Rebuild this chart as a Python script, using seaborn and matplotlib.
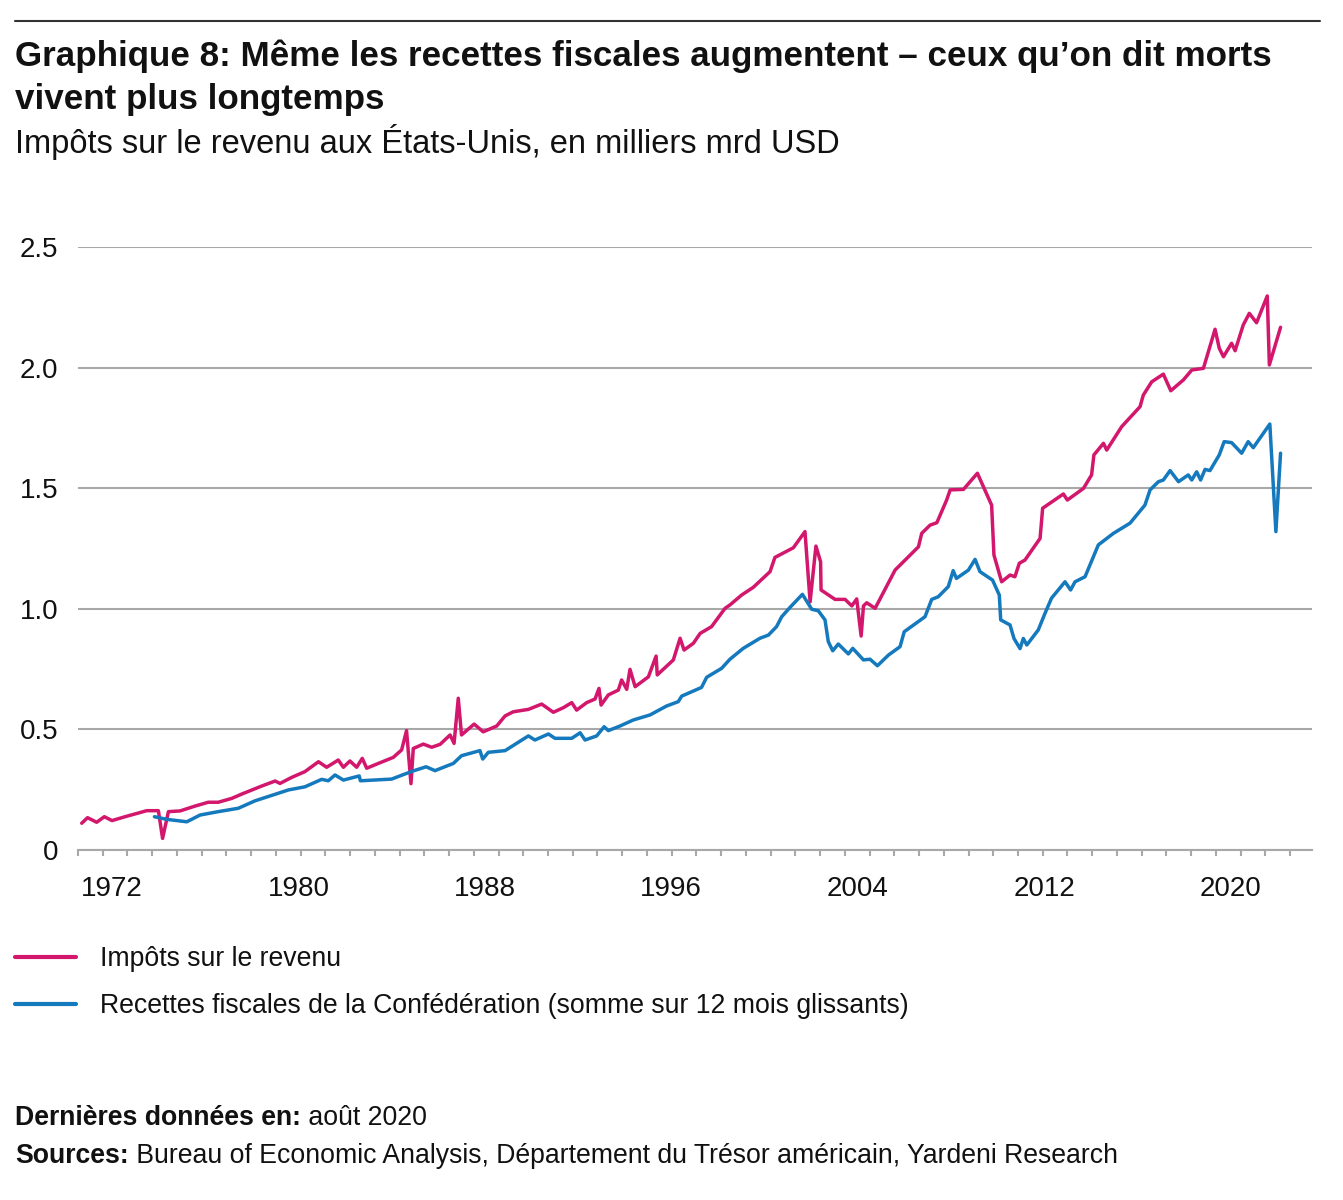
import matplotlib
matplotlib.use("Agg")
import matplotlib.pyplot as plt
from matplotlib.lines import Line2D
import numpy as np
import pandas as pd
import seaborn as sns

# Impôts sur le revenu (milliers de mrd USD)
income_years = [
  1970.70, 1970.95, 1971.34, 1971.67, 1972.00, 1972.56, 1973.49, 1973.99, 1974.17, 1974.42,
  1974.92, 1975.56, 1976.13, 1976.56, 1977.14, 1977.57, 1978.42, 1979.00, 1979.21, 1979.71,
  1980.28, 1980.86, 1981.21, 1981.71, 1981.93, 1982.21, 1982.50, 1982.74, 1982.93, 1983.43,
  1984.07, 1984.43, 1984.64, 1984.83, 1984.93, 1985.36, 1985.72, 1986.08, 1986.51, 1986.68,
  1986.86, 1987.00, 1987.54, 1987.93, 1988.51, 1988.87, 1989.22, 1989.87, 1990.44, 1990.94,
  1991.37, 1991.73, 1991.94, 1992.37, 1992.73, 1992.90, 1992.99, 1993.30, 1993.73, 1993.87,
  1994.09, 1994.23, 1994.45, 1995.02, 1995.35, 1995.40, 1996.09, 1996.38, 1996.55, 1996.95,
  1997.24, 1997.73, 1998.31, 1998.52, 1999.02, 1999.52, 2000.24, 2000.45, 2001.24, 2001.74,
  2001.96, 2002.21, 2002.41, 2002.43, 2003.03, 2003.46, 2003.75, 2003.96, 2004.15, 2004.25,
  2004.39, 2004.75, 2005.61, 2006.61, 2006.75, 2007.11, 2007.40, 2007.82, 2007.97, 2008.54,
  2009.14, 2009.75, 2009.85, 2010.18, 2010.54, 2010.75, 2010.94, 2011.18, 2011.83, 2011.94,
  2012.83, 2013.00, 2013.69, 2014.04, 2014.14, 2014.55, 2014.69, 2015.33, 2016.12, 2016.26,
  2016.62, 2017.12, 2017.44, 2017.98, 2018.34, 2018.84, 2019.34, 2019.52, 2019.70, 2020.05,
  2020.20, 2020.55, 2020.81, 2021.12, 2021.58, 2021.67, 2022.15,
]
income_values = [
  0.111, 0.134, 0.115, 0.138, 0.122, 0.138, 0.163, 0.163, 0.048, 0.159,
  0.162, 0.182, 0.198, 0.198, 0.214, 0.232, 0.265, 0.286, 0.276, 0.301,
  0.325, 0.366, 0.343, 0.373, 0.343, 0.369, 0.343, 0.380, 0.339, 0.359,
  0.384, 0.415, 0.495, 0.275, 0.421, 0.439, 0.426, 0.438, 0.477, 0.442,
  0.629, 0.477, 0.522, 0.490, 0.514, 0.556, 0.573, 0.583, 0.605, 0.571,
  0.590, 0.611, 0.580, 0.611, 0.626, 0.670, 0.601, 0.643, 0.663, 0.705,
  0.666, 0.749, 0.677, 0.718, 0.804, 0.726, 0.788, 0.878, 0.829, 0.857,
  0.898, 0.926, 1.002, 1.016, 1.057, 1.089, 1.154, 1.213, 1.253, 1.320,
  1.029, 1.260, 1.195, 1.078, 1.039, 1.039, 1.012, 1.041, 0.887, 1.012,
  1.025, 1.002, 1.161, 1.257, 1.313, 1.347, 1.357, 1.451, 1.493, 1.495,
  1.562, 1.430, 1.223, 1.112, 1.140, 1.133, 1.189, 1.202, 1.292, 1.417,
  1.476, 1.451, 1.499, 1.555, 1.638, 1.686, 1.658, 1.755, 1.838, 1.886,
  1.941, 1.973, 1.904, 1.949, 1.990, 1.997, 2.159, 2.080, 2.045, 2.101,
  2.070, 2.177, 2.225, 2.186, 2.297, 2.011, 2.167,
]

# Recettes fiscales fédérales, somme sur 12 mois glissants
receipts_years = [
  1973.82, 1974.35, 1975.21, 1975.78, 1976.56, 1977.42, 1978.14, 1979.00, 1979.57, 1980.28,
  1981.00, 1981.28, 1981.57, 1981.93, 1982.61, 1982.66, 1984.00, 1984.57, 1984.93, 1985.48,
  1985.86, 1986.65, 1987.00, 1987.79, 1987.91, 1988.15, 1988.87, 1989.87, 1990.15, 1990.73,
  1991.01, 1991.73, 1992.09, 1992.30, 1992.80, 1993.12, 1993.30, 1993.80, 1994.37, 1995.09,
  1995.80, 1996.30, 1996.45, 1997.30, 1997.52, 1998.16, 1998.52, 1999.09, 1999.81, 2000.17,
  2000.52, 2000.74, 2001.10, 2001.63, 2002.03, 2002.31, 2002.60, 2002.74, 2002.93, 2003.17,
  2003.60, 2003.79, 2004.25, 2004.53, 2004.85, 2005.32, 2005.82, 2006.00, 2006.89, 2007.18,
  2007.46, 2007.89, 2008.10, 2008.24, 2008.75, 2009.04, 2009.25, 2009.79, 2010.08, 2010.14,
  2010.54, 2010.71, 2010.97, 2011.11, 2011.26, 2011.75, 2012.04, 2012.32, 2012.90, 2013.14,
  2013.33, 2013.76, 2014.33, 2014.98, 2015.69, 2016.33, 2016.55, 2016.91, 2017.12, 2017.41,
  2017.77, 2018.19, 2018.34, 2018.55, 2018.72, 2018.91, 2019.12, 2019.52, 2019.73, 2020.05,
  2020.48, 2020.76, 2020.98, 2021.69, 2021.95, 2022.15,
]
receipts_values = [
  0.138, 0.127, 0.117, 0.145, 0.159, 0.173, 0.204, 0.231, 0.249, 0.262,
  0.293, 0.287, 0.311, 0.290, 0.307, 0.287, 0.294, 0.315, 0.328, 0.345,
  0.329, 0.359, 0.391, 0.412, 0.377, 0.405, 0.412, 0.473, 0.456, 0.481,
  0.463, 0.463, 0.486, 0.456, 0.473, 0.511, 0.495, 0.514, 0.539, 0.560,
  0.597, 0.615, 0.638, 0.674, 0.716, 0.753, 0.791, 0.836, 0.878, 0.891,
  0.926, 0.967, 1.006, 1.060, 0.998, 0.992, 0.954, 0.864, 0.826, 0.854,
  0.813, 0.836, 0.788, 0.791, 0.764, 0.808, 0.843, 0.905, 0.967, 1.039,
  1.050, 1.092, 1.158, 1.126, 1.160, 1.205, 1.154, 1.119, 1.057, 0.954,
  0.933, 0.877, 0.835, 0.877, 0.850, 0.912, 0.981, 1.044, 1.112, 1.078,
  1.112, 1.133, 1.265, 1.313, 1.355, 1.430, 1.493, 1.527, 1.534, 1.573,
  1.527, 1.555, 1.534, 1.568, 1.534, 1.578, 1.573, 1.638, 1.693, 1.689,
  1.645, 1.693, 1.668, 1.766, 1.320, 1.645,
]

series_labels = [
  "Impôts sur le revenu",
  "Recettes fiscales de la Confédération (somme sur 12 mois glissants)",
]
year_ticks = [1972, 1980, 1988, 1996, 2004, 2012, 2020]
value_ticks = [0, 0.5, 1.0, 1.5, 2.0, 2.5]
value_tick_labels = ["0", "0.5", "1.0", "1.5", "2.0", "2.5"]

title_lines = [
  "Graphique 8: Même les recettes fiscales augmentent – ceux qu’on dit morts",
  "vivent plus longtemps",
]
subtitle = "Impôts sur le revenu aux États-Unis, en milliers mrd USD"

PINK = "#D2176D"
BLUE = "#1479BD"
GRID = "#A8A8A8"
W, H = 1343, 1200

sns.set_theme(style="white")
plt.rcParams["font.family"] = ["Liberation Sans", "DejaVu Sans"]

df = pd.concat([
  pd.DataFrame({"year": income_years, "value": income_values, "serie": series_labels[0]}),
  pd.DataFrame({"year": receipts_years, "value": receipts_values, "serie": series_labels[1]}),
])

fig = plt.figure(figsize=(W / 100, H / 100), dpi=100)
ax = fig.add_axes([78 / W, 1 - 850 / H, (1312 - 78) / W, (850 - 247) / H])

sns.lineplot(
  data=df,
  x="year",
  y="value",
  hue="serie",
  palette=[PINK, BLUE],
  estimator=None,
  linewidth=2.5,
  legend=False,
  ax=ax,
  zorder=3,
)

# Axes formatting
ax.set_xlim(1970.54, 2023.5)
ax.set_ylim(0, 2.5)
ax.set_xlabel("")
ax.set_ylabel("")
ax.set_yticks(value_ticks)
ax.set_yticklabels(value_tick_labels)
ax.set_xticks(year_ticks)
ax.set_xticklabels([str(y) for y in year_ticks])
ax.set_xticks(np.linspace(1970.54, 2022.56, 50), minor=True)
ax.tick_params(axis="y", length=0, pad=14, labelsize=20, labelcolor="#111111")
ax.tick_params(axis="x", which="major", length=0, pad=19, labelsize=20, labelcolor="#111111")
ax.tick_params(axis="x", which="minor", length=4, width=1.5, color=GRID, bottom=True)
ax.grid(axis="y", color=GRID, linewidth=1.5)
ax.grid(axis="x", visible=False)
for side in ["left", "right", "top"]:
  ax.spines[side].set_visible(False)
ax.spines["bottom"].set_color(GRID)
ax.spines["bottom"].set_linewidth(1.5)

# Titles
fig.add_artist(Line2D([15 / W, 1320 / W], [1 - 21 / H, 1 - 21 / H], color="#333333", linewidth=1.5))
fig.text(15 / W, 1 - 66 / H, title_lines[0], fontsize=25.2, fontweight="bold", va="baseline", color="#111111")
fig.text(15 / W, 1 - 109 / H, title_lines[1], fontsize=25.2, fontweight="bold", va="baseline", color="#111111")
fig.text(15 / W, 1 - 153 / H, subtitle, fontsize=23.5, va="baseline", color="#111111")

# Legend
handles = [Line2D([], [], color=PINK, linewidth=3), Line2D([], [], color=BLUE, linewidth=3)]
fig.legend(
  handles,
  series_labels,
  loc="upper left",
  bbox_to_anchor=(15 / W, 1 - 946 / H),
  frameon=False,
  fontsize=19.2,
  handlelength=2.3,
  handletextpad=0.87,
  labelspacing=0.8,
  borderpad=0,
  borderaxespad=0,
  labelcolor="#111111",
)

# Footer with bold lead-ins
renderer = fig.canvas.get_renderer()
footer = [
  ("Dernières données en:", " août 2020", 1125),
  ("Sources:", " Bureau of Economic Analysis, Département du Trésor américain, Yardeni Research", 1163),
]
for bold, rest, base in footer:
  t = fig.text(15 / W, 1 - base / H, bold, fontsize=19.2, fontweight="bold", va="baseline", color="#111111")
  x1 = t.get_window_extent(renderer=renderer).x1 / W
  fig.text(x1, 1 - base / H, rest, fontsize=19.2, va="baseline", color="#111111")

fig.savefig("out.png", dpi=100)
